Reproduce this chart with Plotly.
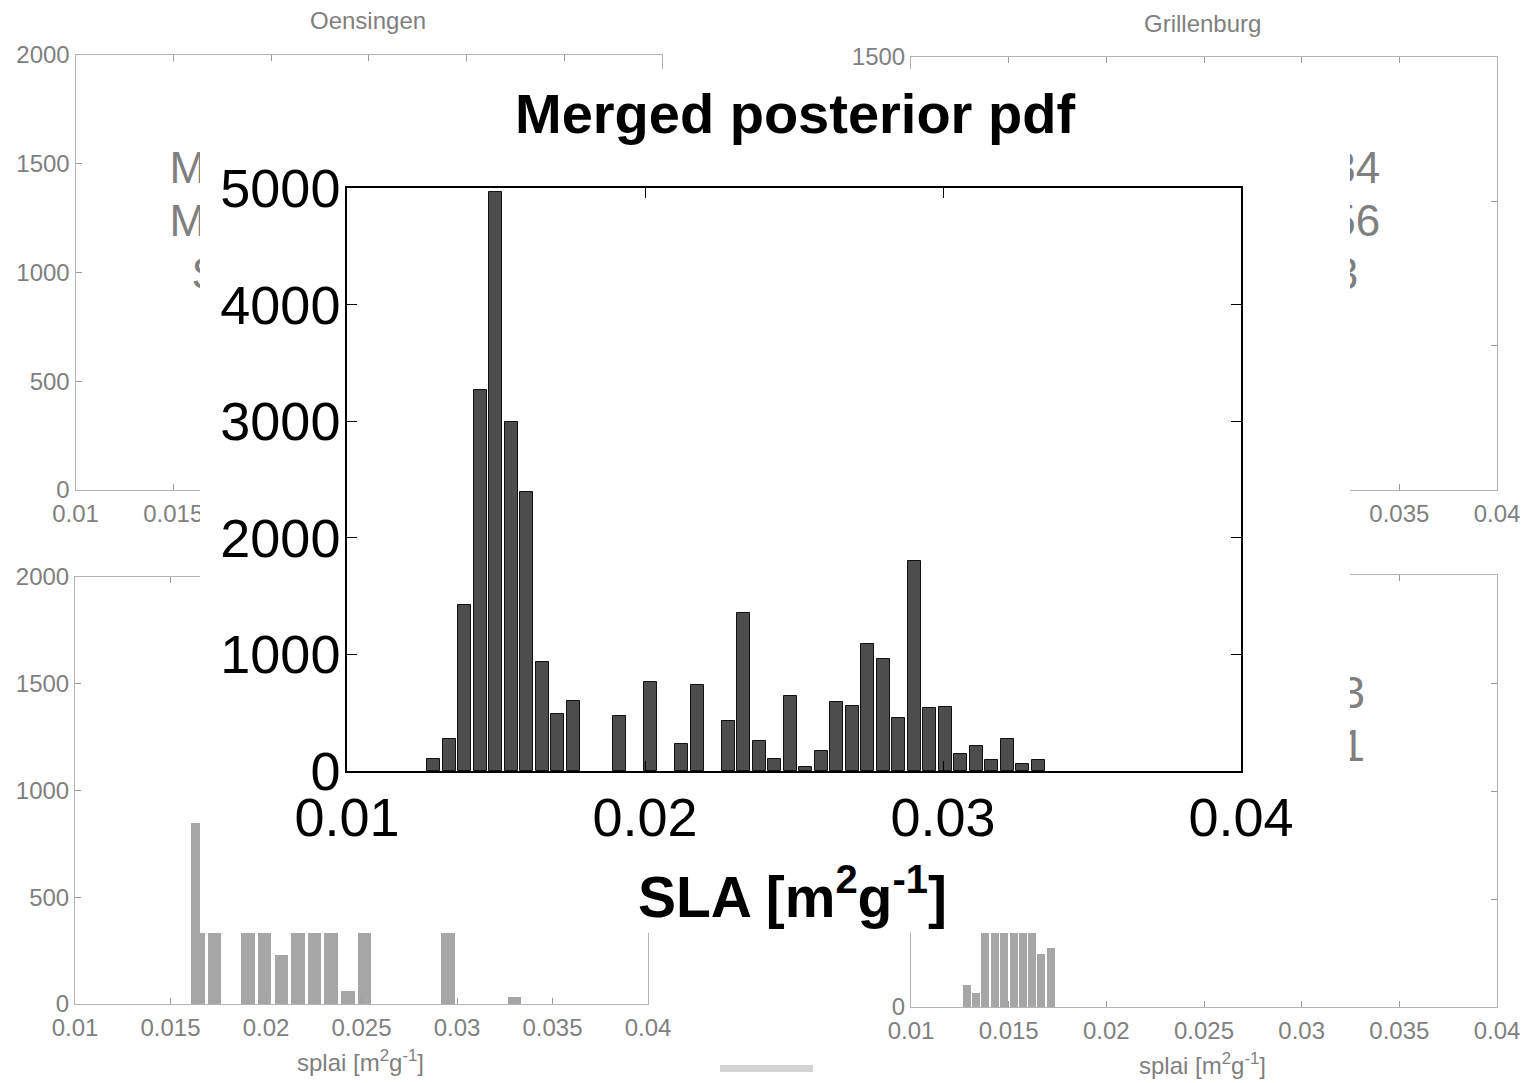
import plotly.graph_objects as go

W, H = 1526, 1083

# ---------------- data ----------------
# Merged posterior pdf histogram (bin centres, counts)
merged_centers = [0.01291, 0.01343, 0.01395, 0.01447, 0.01499, 0.01551, 0.01603, 0.01655,
                  0.01707, 0.01759, 0.01811, 0.01863, 0.01915, 0.01967, 0.02019, 0.02071,
                  0.02123, 0.02175, 0.02227, 0.02279, 0.02331, 0.02383, 0.02435, 0.02487,
                  0.02539, 0.02591, 0.02643, 0.02695, 0.02747, 0.02799, 0.02851, 0.02903,
                  0.02955, 0.03007, 0.03059, 0.03111, 0.03163, 0.03215, 0.03267, 0.03319]
merged_counts = [105, 272, 1423, 3266, 4964, 2990, 2397, 938,
                 485, 600, 0, 0, 469, 0, 767, 0,
                 233, 741, 0, 430, 1351, 259, 102, 640,
                 32, 174, 592, 557, 1092, 961, 452, 1798,
                 543, 552, 149, 211, 92, 272, 57, 92]

# bottom-left background panel
bl_centers = [0.01644, 0.01730, 0.01906, 0.01992, 0.02080, 0.02167, 0.02254, 0.02340,
              0.02429, 0.02516, 0.02952, 0.03301]
bl_counts = [849, 520, 610, 540, 229, 480, 700, 560, 61, 430, 380, 34]

# bottom-right background panel
br_centers = [0.01288, 0.01333, 0.01381, 0.01429, 0.01477, 0.01525, 0.01573, 0.01618,
              0.01666, 0.01715]
br_counts = [102, 66, 900, 1250, 1400, 1180, 820, 560, 244, 275]

# statistics text of background panels
tl_stats = ["Mean = 0.0228", "Mode = 0.0165", "Std = 0.0041"]
tr_stats = ["Mean = 0.0234", "Mode = 0.0156", "Std = 0.0043"]
br_stats = ["Mean = 0.0153", "Mode = 0.0151", "Std = 0.0012"]

bg_xticks = [0.01, 0.015, 0.02, 0.025, 0.03, 0.035, 0.04]
bg_xticktext = ["0.01", "0.015", "0.02", "0.025", "0.03", "0.035", "0.04"]
main_xticks = [0.01, 0.02, 0.03, 0.04]
main_xticktext = ["0.01", "0.02", "0.03", "0.04"]
main_yticks = [0, 1000, 2000, 3000, 4000, 5000]

FONT = "Liberation Sans, Arial, sans-serif"
GREY_TXT = "#7f7f7f"
GREY_LINE = "#b4b4b4"
BAR_BG = "#a6a6a6"


def px_x(p):
    return p / W


def px_y(p):
    return 1 - p / H


# only non-empty bins are drawn
mx = [c for c, n in zip(merged_centers, merged_counts) if n > 0]
my = [n for n in merged_counts if n > 0]

fig = go.Figure()

# background bars
fig.add_trace(go.Bar(x=bl_centers, y=bl_counts, width=0.00071, marker=dict(color=BAR_BG, line=dict(width=0)),
                     xaxis="x3", yaxis="y3", showlegend=False))
fig.add_trace(go.Bar(x=br_centers, y=br_counts, width=0.00041, marker=dict(color=BAR_BG, line=dict(width=0)),
                     xaxis="x4", yaxis="y4", showlegend=False))

# statistics text (partly hidden by the overlay)
stat_font = dict(family=FONT, size=44, color=GREY_TXT)
fig.add_trace(go.Scatter(x=[0.02235] * 3, y=[1462, 1218, 975], text=tl_stats, mode="text",
                         textposition="middle center", textfont=stat_font, cliponaxis=False,
                         xaxis="x", yaxis="y", showlegend=False, hoverinfo="skip"))
fig.add_trace(go.Scatter(x=[0.02648] * 3, y=[1102, 918, 734], text=tr_stats, mode="text",
                         textposition="middle center", textfont=stat_font, cliponaxis=False,
                         xaxis="x2", yaxis="y2", showlegend=False, hoverinfo="skip"))
fig.add_trace(go.Scatter(x=[0.02569] * 3, y=[1435, 1190, 944], text=br_stats, mode="text",
                         textposition="middle center", textfont=stat_font, cliponaxis=False,
                         xaxis="x4", yaxis="y4", showlegend=False, hoverinfo="skip"))

# white overlay panel
fig.add_trace(go.Scatter(x=[-0.1, 1.1, 1.1, -0.1, -0.1], y=[-0.1, -0.1, 1.1, 1.1, -0.1], fill="toself",
                         fillcolor="white", line=dict(width=0, color="white"), mode="lines",
                         xaxis="x5", yaxis="y5", showlegend=False, hoverinfo="skip"))

# main histogram
fig.add_trace(go.Bar(x=mx, y=my, width=0.00044,
                     marker=dict(color="#4d4d4d", line=dict(color="#111111", width=1)),
                     xaxis="x6", yaxis="y6", showlegend=False))


def bg_x(domain, anchor):
    return dict(domain=domain, anchor=anchor, range=[0.01, 0.04], tickvals=bg_xticks, ticktext=bg_xticktext,
                ticks="inside", ticklen=6, tickcolor="#9a9a9a", showline=True, linecolor=GREY_LINE,
                linewidth=1, mirror="ticks", showgrid=False, zeroline=False, automargin=False,
                tickfont=dict(family=FONT, size=24, color=GREY_TXT), ticklabelstandoff=2)


def bg_y(domain, anchor, rng, vals):
    return dict(domain=domain, anchor=anchor, range=rng, tickvals=vals,
                ticks="inside", ticklen=6, tickcolor="#9a9a9a", showline=True, linecolor=GREY_LINE,
                linewidth=1, mirror="ticks", showgrid=False, zeroline=False, automargin=False,
                tickfont=dict(family=FONT, size=24, color=GREY_TXT), ticklabelstandoff=0)


fig.update_layout(
    width=W, height=H, margin=dict(l=0, r=0, t=0, b=0, autoexpand=False),
    paper_bgcolor="white", plot_bgcolor="white", bargap=0,
    xaxis=bg_x([px_x(75.5), px_x(662)], "y"),
    yaxis=bg_y([px_y(490), px_y(55)], "x", [0, 2000], [0, 500, 1000, 1500, 2000]),
    xaxis2=bg_x([px_x(911), px_x(1497)], "y2"),
    yaxis2=bg_y([px_y(490), px_y(57)], "x2", [0, 1500], [0, 500, 1000, 1500]),
    xaxis3=bg_x([px_x(75), px_x(648)], "y3"),
    yaxis3=bg_y([px_y(1004), px_y(577)], "x3", [0, 2000], [0, 500, 1000, 1500, 2000]),
    xaxis4=bg_x([px_x(911), px_x(1497)], "y4"),
    yaxis4=bg_y([px_y(1007), px_y(575)], "x4", [0, 2000], [0, 500, 1000, 1500, 2000]),
    xaxis5=dict(domain=[px_x(200), px_x(1350)], anchor="y5", range=[0, 1], visible=False, automargin=False),
    yaxis5=dict(domain=[px_y(933), px_y(69)], anchor="x5", range=[0, 1], visible=False, automargin=False),
    xaxis6=dict(domain=[px_x(347), px_x(1241)], anchor="y6", range=[0.01, 0.04], tickvals=main_xticks,
                ticktext=main_xticktext, ticks="inside", ticklen=10, tickcolor="black", showline=True,
                linecolor="black", linewidth=1.5, mirror="ticks", showgrid=False, zeroline=False,
                automargin=False, tickfont=dict(family=FONT, size=54, color="black"), ticklabelstandoff=-2),
    yaxis6=dict(domain=[px_y(771), px_y(188)], anchor="x6", range=[0, 5000], tickvals=main_yticks,
                ticks="inside", ticklen=10, tickcolor="black", showline=True,
                linecolor="black", linewidth=1.5, mirror="ticks", showgrid=False, zeroline=False,
                automargin=False, tickfont=dict(family=FONT, size=54, color="black"), ticklabelstandoff=-6),
)

ann = [
    dict(text="<b>Merged posterior pdf</b>", x=px_x(795), y=px_y(113), font=dict(family=FONT, size=56, color="black")),
    dict(text="<b>SLA [m<sup>2</sup>g<sup>-1</sup>]</b>", x=px_x(792), y=px_y(893),
         font=dict(family=FONT, size=57, color="black")),
    dict(text="Oensingen", x=px_x(368), y=px_y(20), font=dict(family=FONT, size=24, color=GREY_TXT)),
    dict(text="Grillenburg", x=px_x(1202), y=px_y(23), font=dict(family=FONT, size=24, color=GREY_TXT)),
    dict(text="splai [m<sup>2</sup>g<sup>-1</sup>]", x=px_x(360), y=px_y(1061),
         font=dict(family=FONT, size=24, color=GREY_TXT)),
    dict(text="splai [m<sup>2</sup>g<sup>-1</sup>]", x=px_x(1202), y=px_y(1064),
         font=dict(family=FONT, size=24, color=GREY_TXT)),
]
for a in ann:
    a.update(xref="paper", yref="paper", showarrow=False, xanchor="center", yanchor="middle")
fig.update_layout(annotations=ann)

fig.add_shape(type="rect", xref="paper", yref="paper", x0=px_x(720), x1=px_x(813), y0=px_y(1072),
              y1=px_y(1065), fillcolor="#d4d4d4", line=dict(width=0), layer="above")

fig.write_html("out.html", config={"displayModeBar": False},
               post_script="document.body.style.margin='0';document.body.style.overflow='hidden';")
